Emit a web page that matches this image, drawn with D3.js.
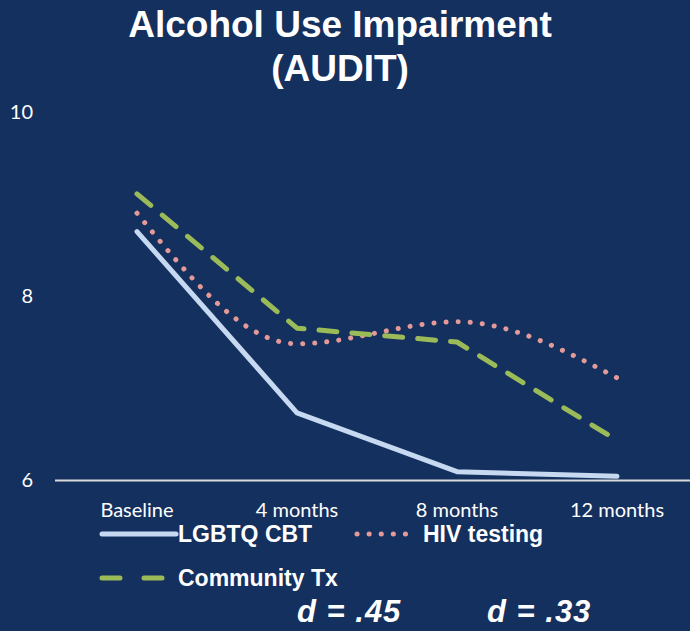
<!DOCTYPE html>
<html>
<head>
<meta charset="utf-8">
<script src="https://cdn.jsdelivr.net/npm/d3@7"></script>
<style>
  html, body { margin: 0; padding: 0; background: #14305e; }
  svg { display: block; }
</style>
</head>
<body>
<div id="chart"></div>
<script>
// values
var categories = ["Baseline", "4 months", "8 months", "12 months"];
var yTicks = [6, 8, 10];
var lgbtqCbt = [8.70, 6.73, 6.09, 6.04];
var hivTesting = [8.90, 7.48, 7.72, 7.11];
var communityTx = [9.11, 7.65, 7.50, 6.43];
var effectSizes = ["d = .45", "d = .33"];

var width = 690, height = 631;

var series = [
  { name: "LGBTQ CBT", values: lgbtqCbt, color: "#c6d9f1", dash: null, w: 5, curve: d3.curveLinear },
  { name: "HIV testing", values: hivTesting, color: "#e39a98", dash: "0.1 12", w: 5, curve: d3.curveMonotoneX },
  { name: "Community Tx", values: communityTx, color: "#9bbb59", dash: "18 15", w: 5, curve: d3.curveLinear }
];

const svg = d3.select("#chart")
  .append("svg")
  .attr("width", width)
  .attr("height", height);

svg.append("rect")
  .attr("width", width)
  .attr("height", height)
  .attr("fill", "#14305e");

var x = d3.scaleBand()
  .domain(categories)
  .range([57, 697]);

var y = d3.scaleLinear()
  .domain([6, 10])
  .range([480, 112]);

// title
["Alcohol Use Impairment", "(AUDIT)"].forEach(function (t, i) {
  svg.append("text")
    .attr("x", 340)
    .attr("y", 37 + i * 44)
    .attr("text-anchor", "middle")
    .attr("font-family", "Liberation Sans, Arial, sans-serif")
    .attr("font-weight", "bold")
    .attr("font-size", 37)
    .attr("fill", "#ffffff")
    .text(t);
});

// y tick labels
svg.append("g")
  .selectAll("text")
  .data(yTicks)
  .enter()
  .append("text")
  .attr("x", 33)
  .attr("y", function (d) { return y(d); })
  .attr("dy", "0.35em")
  .attr("text-anchor", "end")
  .attr("font-family", "Lato, Open Sans, sans-serif")
  .attr("font-size", 20)
  .attr("fill", "#ffffff")
  .text(function (d) { return d; });

// baseline axis
svg.append("line")
  .attr("x1", 55)
  .attr("x2", width)
  .attr("y1", y(6) + 0.5)
  .attr("y2", y(6) + 0.5)
  .attr("stroke", "#d9d9d9")
  .attr("stroke-width", 2);

// x labels
svg.append("g")
  .selectAll("text")
  .data(categories)
  .enter()
  .append("text")
  .attr("x", function (d) { return x(d) + x.bandwidth() / 2; })
  .attr("y", 517)
  .attr("text-anchor", "middle")
  .attr("font-family", "Lato, Open Sans, sans-serif")
  .attr("font-size", 20)
  .attr("fill", "#ffffff")
  .text(function (d) { return d; });

// lines
series.forEach(function (s) {
  var line = d3.line()
    .x(function (d, i) { return x(categories[i]) + x.bandwidth() / 2; })
    .y(function (d) { return y(d); })
    .curve(s.curve);
  svg.append("path")
    .datum(s.values)
    .attr("d", line)
    .attr("fill", "none")
    .attr("stroke", s.color)
    .attr("stroke-width", s.w)
    .attr("stroke-linecap", "round")
    .attr("stroke-linejoin", "round")
    .attr("stroke-dasharray", s.dash);
});

// legend: [line start, line end, text x, y]
var legendPos = [[102, 176, 178, 534], [357, 414, 423, 534], [102, 165, 178, 578]];
series.forEach(function (s, i) {
  var p = legendPos[i];
  svg.append("line")
    .attr("x1", p[0])
    .attr("x2", p[1])
    .attr("y1", p[3])
    .attr("y2", p[3])
    .attr("stroke", s.color)
    .attr("stroke-width", s.w)
    .attr("stroke-linecap", "round")
    .attr("stroke-dasharray", i == 2 ? "18 24" : s.dash);
  svg.append("text")
    .attr("x", p[2])
    .attr("y", p[3] + 8)
    .attr("font-family", "Liberation Sans, Arial, sans-serif")
    .attr("font-weight", "bold")
    .attr("font-size", 23)
    .attr("fill", "#ffffff")
    .text(s.name);
});

// effect sizes
var effX = [297, 487];
effectSizes.forEach(function (e, i) {
  svg.append("text")
    .attr("x", effX[i])
    .attr("y", 622)
    .attr("font-family", "Liberation Sans, Arial, sans-serif")
    .attr("font-weight", "bold")
    .attr("font-style", "italic")
    .attr("font-size", 31)
    .attr("letter-spacing", 1)
    .attr("fill", "#ffffff")
    .text(e);
});
</script>
</body>
</html>
